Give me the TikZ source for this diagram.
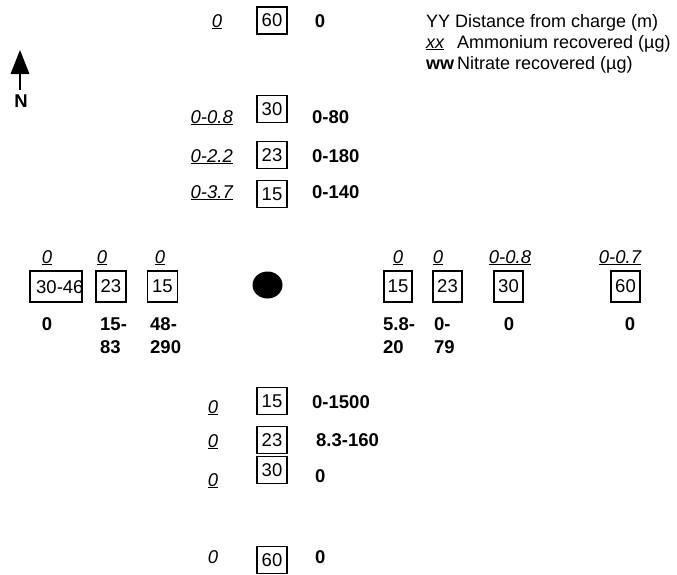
\documentclass[tikz,border=0pt]{standalone}
\usepackage{fontspec}
\setmainfont{Liberation Sans}
\usetikzlibrary{shapes.geometric}
\tikzset{
  dist/.style={draw, line width=1.4pt, minimum width=30pt, minimum height=27pt, inner sep=0pt, font=\fontsize{18.5}{22}\selectfont},
  amm/.style={inner sep=0pt, font=\fontsize{18.5}{22}\selectfont\itshape},
  nit/.style={inner sep=0pt, font=\fontsize{18.5}{22}\selectfont\bfseries},
  leg/.style={inner sep=0pt, anchor=base west, font=\fontsize{18}{22}\selectfont},
}
\newcommand{\ul}[1]{\underline{#1}}
\begin{document}
\begin{tikzpicture}[x=1pt,y=-1pt]
\useasboundingbox (0,0) rectangle (677,574);
% north arrow
\node[nit, anchor=base] (N) at (21,107) {N};
\coordinate (arrtop) at (20,50);
\coordinate (arrbot) at (20,90);
\draw[line width=1.3pt] (arrbot) -- (20,70);
\fill (arrtop) -- (10.5,74) -- (29.5,74) -- cycle;
% legend
\node[leg] (lyy) at (426,27) {YY};
\node[leg] (lyyt) at (455,27) {Distance from charge (m)};
\node[leg, font=\fontsize{18}{22}\selectfont\itshape] (lxx) at (426,48) {\ul{xx}};
\node[leg] (lxxt) at (457,48) {Ammonium recovered (µg)};
\node[leg, font=\fontsize{18}{22}\selectfont\bfseries] (lww) at (426,69) {ww};
\node[leg] (lwwt) at (457,69) {Nitrate recovered (µg)};
% charge
\node[ellipse, fill=black, minimum width=30pt, minimum height=27pt, inner sep=0pt] (charge) at (267.5,285) {};
% north arm
\node[dist] (n60) at (272,20.5) {60};
\node[amm, anchor=base] (n60a) at (217,27) {\ul{0}};
\node[nit, anchor=base] (n60n) at (320,27) {0};
\node[dist] (n30) at (272,109) {30};
\node[amm, anchor=base east] (n30a) at (233,123) {\ul{0-0.8}};
\node[nit, anchor=base west] (n30n) at (312,123) {0-80};
\node[dist] (n23) at (272,155) {23};
\node[amm, anchor=base east] (n23a) at (233,162) {\ul{0-2.2}};
\node[nit, anchor=base west] (n23n) at (312,162) {0-180};
\node[dist] (n15) at (272,194) {15};
\node[amm, anchor=base east] (n15a) at (233,198) {\ul{0-3.7}};
\node[nit, anchor=base west] (n15n) at (312,198) {0-140};
% west arm
\node[dist, minimum width=52pt, minimum height=31pt] (w30) at (56,286.5) {};
\node[inner sep=0pt, anchor=west, font=\fontsize{18.5}{22}\selectfont] (w30t) at (36,287) {30-46};
\node[amm, anchor=base] (w30a) at (47,263) {\ul{0}};
\node[nit, anchor=base] (w30n) at (47,330) {0};
\node[dist, minimum height=31pt] (w23) at (111,286.5) {23};
\node[amm, anchor=base] (w23a) at (102,263) {\ul{0}};
\node[nit, anchor=base west] (w23n) at (100,330) {15-};
\node[nit, anchor=base west] (w23m) at (100,353) {83};
\node[dist, minimum height=31pt] (w15) at (162.5,286.5) {15};
\node[amm, anchor=base] (w15a) at (160,263) {\ul{0}};
\node[nit, anchor=base west] (w15n) at (150,330) {48-};
\node[nit, anchor=base west] (w15m) at (150,353) {290};
% east arm
\node[dist, minimum width=28pt, minimum height=31pt] (e15) at (398,286.5) {15};
\node[amm, anchor=base] (e15a) at (398,263) {\ul{0}};
\node[nit, anchor=base west] (e15n) at (383,330) {5.8-};
\node[nit, anchor=base west] (e15m) at (383,353) {20};
\node[dist, minimum width=29pt, minimum height=31pt] (e23) at (447.5,286.5) {23};
\node[amm, anchor=base] (e23a) at (438,263) {\ul{0}};
\node[nit, anchor=base west] (e23n) at (434,330) {0-};
\node[nit, anchor=base west] (e23m) at (434,353) {79};
\node[dist, minimum width=29pt, minimum height=31pt] (e30) at (508.5,286.5) {30};
\node[amm, anchor=base] (e30a) at (510,263) {\ul{0-0.8}};
\node[nit, anchor=base] (e30n) at (509,330) {0};
\node[dist, minimum width=29pt, minimum height=31pt] (e60) at (625.5,286.5) {60};
\node[amm, anchor=base] (e60a) at (620,263) {\ul{0-0.7}};
\node[nit, anchor=base] (e60n) at (630,330) {0};
% south arm
\node[dist] (s15) at (272,401) {15};
\node[amm, anchor=base] (s15a) at (213,413) {\ul{0}};
\node[nit, anchor=base west] (s15n) at (312,408) {0-1500};
\node[dist] (s23) at (272,440) {23};
\node[amm, anchor=base] (s23a) at (213,447) {\ul{0}};
\node[nit, anchor=base west] (s23n) at (316,446) {8.3-160};
\node[dist] (s30) at (272,470) {30};
\node[amm, anchor=base] (s30a) at (213,486) {\ul{0}};
\node[nit, anchor=base west] (s30n) at (315,482) {0};
\node[dist] (s60) at (272,560) {60};
\node[amm, anchor=base] (s60a) at (213,563) {0};
\node[nit, anchor=base west] (s60n) at (315,563) {0};
\end{tikzpicture}
\end{document}
